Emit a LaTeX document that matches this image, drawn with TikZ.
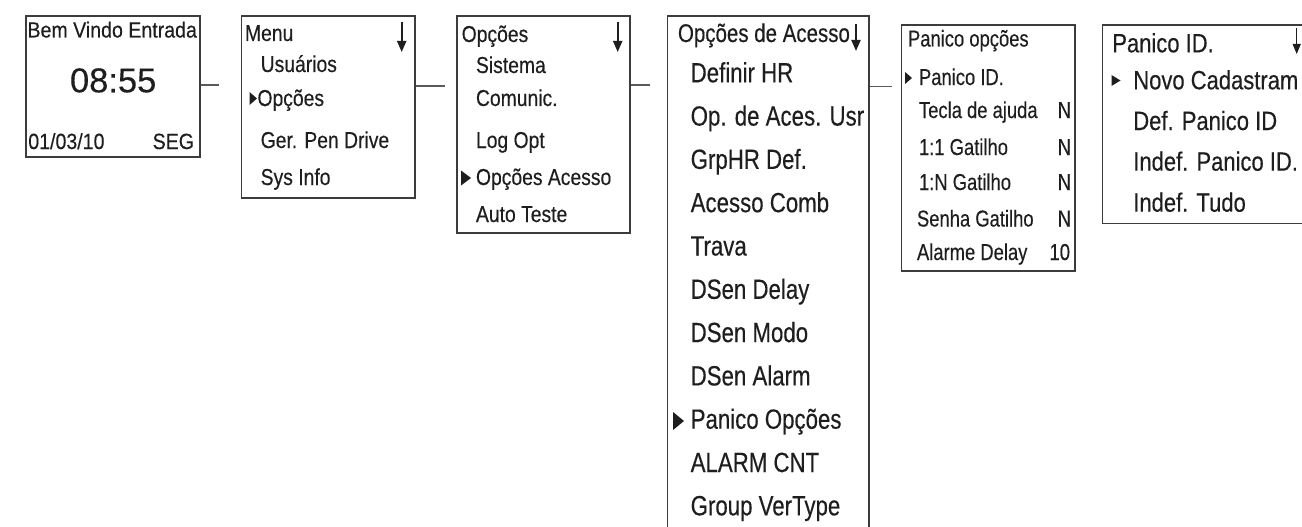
\documentclass[tikz,border=0pt]{standalone}
\usepackage{fontspec}
\setmainfont[FakeBold=0.3]{Liberation Sans}
\newfontfamily\fa[FakeStretch=0.89,FakeBold=0.3]{Liberation Sans}
\newfontfamily\fb[FakeStretch=0.84,FakeBold=0.3]{Liberation Sans}
\newfontfamily\fc[FakeStretch=0.80,FakeBold=0.3]{Liberation Sans}
\newfontfamily\fd[FakeStretch=0.83,FakeBold=0.3]{Liberation Sans}
\usetikzlibrary{arrows.meta}
\definecolor{ink}{HTML}{1E1E1E}
\definecolor{frame}{HTML}{3C3C3C}
\definecolor{wire}{HTML}{5A5A5A}
\begin{document}
\begin{tikzpicture}[x=1pt,y=-1pt,
  screen/.style={draw=frame,line width=1.6pt,fill=none,anchor=north west,inner sep=0,rectangle},
  lbl/.style={anchor=base west,inner sep=0,outer sep=0,text=ink},
  rlbl/.style={anchor=base east,inner sep=0,outer sep=0,text=ink},
  fA/.style={font=\fa\fontsize{22}{24}\selectfont},
  fClock/.style={font=\fontsize{34.5}{36}\selectfont},
  fB/.style={font=\fb\fontsize{23}{25}\selectfont},
  fCt/.style={font=\fc\fontsize{25.6}{28}\selectfont},
  fC/.style={font=\fc\fontsize{27.8}{30}\selectfont},
  fE/.style={font=\fc\fontsize{23}{25}\selectfont},
  fD/.style={font=\fd\fontsize{26.5}{28}\selectfont},
  conn/.style={draw=wire,line width=1.6pt},
  scroll/.style={draw=ink,line width=2pt,-{Triangle[length=11pt,width=9pt]}},
  thinscroll/.style={draw=ink,line width=1.2pt,-{Triangle[length=10pt,width=8pt]}},
  marker/.style={fill=ink}]
\useasboundingbox (0,0) rectangle (1302,527);
\fill[white] (0,0) rectangle (1302,527);

% ---------- Box 1 ----------
\node[screen,minimum width=174pt,minimum height=141pt] (b1) at (25,15) {};
\node[lbl,fA] (b1t) at (27.5,37.5) {Bem Vindo Entrada};
\node[lbl,fClock] (b1c) at (70,92.3) {08:55};
\node[lbl,fA] (b1d) at (28.3,149) {01/03/10};
\node[rlbl,fA] (b1w) at (194,149) {SEG};

% ---------- Box 2 ----------
\node[screen,minimum width=173.3pt,minimum height=182pt] (b2) at (240.7,15) {};
\node[lbl,fB] (b2t) at (245,41) {Menu};
\node[lbl,fB] (b2a) at (260.7,72) {Usuários};
\node[lbl,fB] (b2b) at (257.5,106) {Opções};
\node[lbl,fB] (b2c) at (260.7,148) {Ger. Pen Drive};
\node[lbl,fB] (b2d) at (260.7,185) {Sys Info};
\fill[marker] (249.5,92) -- (249.5,105) -- (257,98.5) -- cycle;
\coordinate (a2s) at (401.7,22);
\coordinate (a2e) at (401.7,52);
\draw[scroll] (a2s) -- (a2e);

% ---------- Box 3 ----------
\node[screen,minimum width=173pt,minimum height=217pt] (b3) at (456,15) {};
\node[lbl,fB] (b3t) at (461.7,42) {Opções};
\node[lbl,fB] (b3a) at (476,73) {Sistema};
\node[lbl,fB] (b3b) at (476,106) {Comunic.};
\node[lbl,fB] (b3c) at (476,148) {Log Opt};
\node[lbl,fB] (b3d) at (476,185) {Opções Acesso};
\node[lbl,fB] (b3e) at (476,222) {Auto Teste};
\fill[marker] (461,170.5) -- (461,185.5) -- (471,178) -- cycle;
\coordinate (a3s) at (617.7,22);
\coordinate (a3e) at (617.7,52);
\draw[scroll] (a3s) -- (a3e);

% ---------- Box 4 ----------
\node[screen,minimum width=201.3pt,minimum height=560pt] (b4) at (666.7,15) {};
\node[lbl,fCt] (b4t) at (678,42) {Opções de Acesso};
\foreach \txt [count=\i from 0] in {Definir HR,Op. de Aces. Usr,GrpHR Def.,Acesso Comb,Trava,DSen Delay,DSen Modo,DSen Alarm,Panico Opções,ALARM CNT,Group VerType}
  \node[lbl,fC] (b4i\i) at (690.7,82.3+\i*43.3) {\txt};
\fill[marker] (673,412) -- (673,430) -- (684,421) -- cycle;
\coordinate (a4s) at (856,24);
\coordinate (a4e) at (856,51);
\draw[scroll] (a4s) -- (a4e);

% ---------- Box 5 ----------
\node[screen,minimum width=173.3pt,minimum height=246pt] (b5) at (900.7,24) {};
\node[lbl,fE] (b5t) at (908,46.5) {Panico opções};
\node[lbl,fE] (b5a) at (919,85) {Panico ID.};
\fill[marker] (905,72) -- (905,84) -- (912,78) -- cycle;
\node[lbl,fE] (b5b) at (919,118) {Tecla de ajuda};
\node[rlbl,fE] (b5bv) at (1071,118) {N};
\node[lbl,fE] (b5c) at (919,155) {1:1 Gatilho};
\node[rlbl,fE] (b5cv) at (1071,155) {N};
\node[lbl,fE] (b5d) at (919,190) {1:N Gatilho};
\node[rlbl,fE] (b5dv) at (1071,190) {N};
\node[lbl,fE] (b5e) at (917,226.5) {Senha Gatilho};
\node[rlbl,fE] (b5ev) at (1071,226.5) {N};
\node[lbl,fE] (b5f) at (917,260) {Alarme Delay};
\node[rlbl,fE] (b5fv) at (1070,260) {10};

% ---------- Box 6 ----------
\node[screen,minimum width=230pt,minimum height=198.7pt] (b6) at (1101.7,24) {};
\node[lbl,fD] (b6t) at (1112.3,52.3) {Panico ID.};
\node[lbl,fD] (b6a) at (1133.3,89.3) {Novo Cadastram};
\fill[marker] (1111.5,75) -- (1111.5,86) -- (1120.5,80.5) -- cycle;
\node[lbl,fD] (b6b) at (1133.3,130) {Def. Panico ID};
\node[lbl,fD] (b6c) at (1133.3,170.7) {Indef. Panico ID.};
\node[lbl,fD] (b6d) at (1133.3,211.7) {Indef. Tudo};
\coordinate (a6s) at (1296.7,28);
\coordinate (a6e) at (1296.7,54);
\draw[thinscroll] (a6s) -- (a6e);

% ---------- connectors ----------
\coordinate (e1) at (219,85);
\coordinate (e2) at (445,86);
\coordinate (e3) at (650,85);
\coordinate (e4) at (892,86.5);
\draw[conn] (b1.east |- e1) -- (e1);
\draw[conn] (b2.east |- e2) -- (e2);
\draw[conn] (b3.east |- e3) -- (e3);
\draw[conn] (b4.east |- e4) -- (e4);
\end{tikzpicture}
\end{document}
